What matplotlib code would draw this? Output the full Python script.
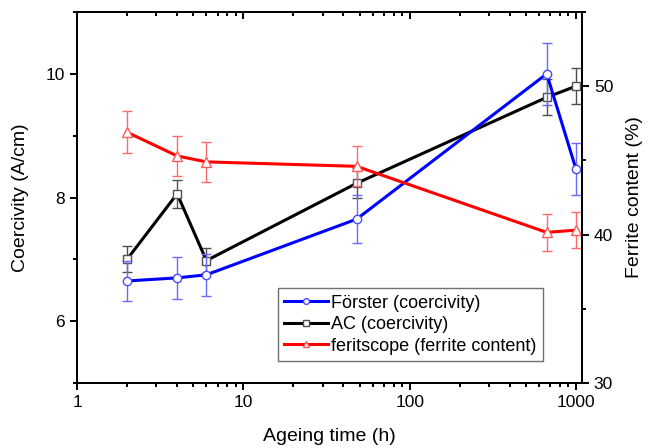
import matplotlib
matplotlib.use("Agg")
import matplotlib.pyplot as plt
from matplotlib.ticker import LogLocator, FixedLocator, MultipleLocator, NullFormatter, FuncFormatter

plt.rcParams['font.family'] = ['Liberation Sans', 'DejaVu Sans']

# Ageing times (h)
time_foerster = [2, 4, 6, 48, 667, 1000]
coer_foerster = [6.65, 6.70, 6.75, 7.65, 10.0, 8.46]
err_foerster = [0.32, 0.34, 0.34, 0.39, 0.50, 0.42]

time_ac = [2, 4, 6, 48, 667, 1000]
coer_ac = [7.00, 8.06, 6.98, 8.23, 9.62, 9.80]
err_ac = [0.21, 0.23, 0.20, 0.24, 0.29, 0.29]

time_ferit = [2, 4, 6, 48, 667, 1000]
ferrite = [46.9, 45.3, 44.9, 44.6, 40.15, 40.3]
err_ferrite = [1.4, 1.35, 1.35, 1.35, 1.25, 1.2]

labels = ["Förster (coercivity)", "AC (coercivity)", "feritscope (ferrite content)"]

fig = plt.figure(figsize=(6.56, 4.48), dpi=100)
ax = fig.add_axes([77/656, 1-383/448, (582-77)/656, (383-12)/448])
ax2 = ax.twinx()

lw = 2.2
ms = 6
cap = 3.5

h1 = ax.errorbar(time_foerster, coer_foerster, yerr=err_foerster, color='#0000ff', lw=lw,
                 marker='o', ms=ms, mfc='white', mec='#4a4aff', mew=1.0,
                 ecolor='#6a6aff', elinewidth=1.0, capsize=cap, capthick=1.0, zorder=3)
h2 = ax.errorbar(time_ac, coer_ac, yerr=err_ac, color='black', lw=lw,
                 marker='s', ms=ms-0.5, mfc='white', mec='#505050', mew=1.0,
                 ecolor='#505050', elinewidth=1.0, capsize=cap, capthick=1.0, zorder=2)
h3 = ax2.errorbar(time_ferit, ferrite, yerr=err_ferrite, color='#ff0000', lw=lw,
                  marker='^', ms=ms+1, mfc='white', mec='#ff5a5a', mew=1.0,
                  ecolor='#ff6a6a', elinewidth=1.0, capsize=cap, capthick=1.0, zorder=2)

ax.set_xscale('log')
ax.set_xlim(1, 1087)
ax.set_ylim(5, 11)
ax2.set_ylim(30, 55)

ax.xaxis.set_major_locator(FixedLocator([1, 10, 100, 1000]))
ax.xaxis.set_major_formatter(FuncFormatter(lambda v, p: f"{v:g}"))
ax.xaxis.set_minor_locator(LogLocator(base=10, subs=range(2, 10)))
ax.xaxis.set_minor_formatter(NullFormatter())
ax.yaxis.set_major_locator(FixedLocator([6, 8, 10]))
ax.yaxis.set_minor_locator(MultipleLocator(1))
ax2.yaxis.set_major_locator(FixedLocator([30, 40, 50]))
ax2.yaxis.set_minor_locator(MultipleLocator(5))

for a in (ax, ax2):
    for s in a.spines.values():
        s.set_linewidth(1.4)

ax.tick_params(axis='both', which='major', direction='out', length=5, width=1.4, labelsize=12.5)
ax.tick_params(axis='both', which='minor', direction='out', length=2.8, width=1.4)
ax2.tick_params(axis='y', which='major', direction='out', length=5, width=1.4, labelsize=12.5)
ax2.tick_params(axis='y', which='minor', direction='out', length=2.8, width=1.4)

sec = ax.secondary_xaxis('top')
sec.xaxis.set_major_locator(FixedLocator([1, 10, 100, 1000]))
sec.xaxis.set_minor_locator(LogLocator(base=10, subs=range(2, 10)))
sec.xaxis.set_major_formatter(NullFormatter())
sec.xaxis.set_minor_formatter(NullFormatter())
sec.tick_params(which='major', direction='in', length=5, width=1.4)
sec.tick_params(which='minor', direction='in', length=2.8, width=1.4)
sec.spines['top'].set_linewidth(1.4)

ax.set_xlabel("Ageing time (h)", fontsize=14, labelpad=13)
ax.set_ylabel("Coercivity (A/cm)", fontsize=14, labelpad=12)
ax2.set_ylabel("Ferrite content (%)", fontsize=14, labelpad=9)

leg = ax2.legend([h1[0], h2[0], h3[0]], labels, loc='lower left', bbox_to_anchor=(0.398, 0.059),
                 borderaxespad=0, fontsize=13, frameon=True, fancybox=False,
                 edgecolor='#707070', framealpha=1, handlelength=2.4, handletextpad=0.2,
                 labelspacing=0.25, borderpad=0.35, markerscale=0.7)
leg.get_frame().set_linewidth(1.0)
leg.set_zorder(10)

fig.savefig("out.png", dpi=100)
